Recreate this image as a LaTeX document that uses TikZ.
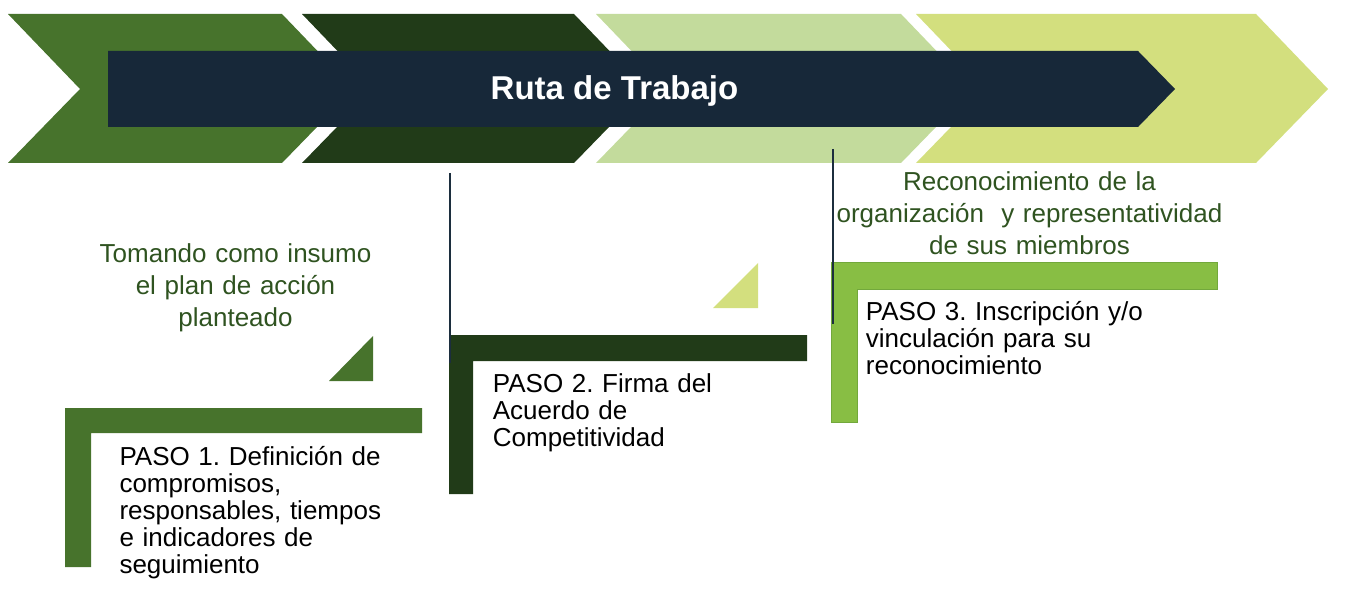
\documentclass[tikz,border=0pt]{standalone}
\usepackage{fontspec}
\setmainfont{Liberation Sans}
\frenchspacing
\definecolor{cA}{HTML}{47732C}
\definecolor{cB}{HTML}{213B18}
\definecolor{cC}{HTML}{C3DB9C}
\definecolor{cD}{HTML}{D3DF7E}
\definecolor{cE}{HTML}{88BE44}
\definecolor{cEline}{HTML}{72A83C}
\definecolor{banner}{HTML}{172839}
\definecolor{notegreen}{HTML}{2F5320}
\definecolor{vline}{HTML}{1C2E3E}
\begin{document}
\begin{tikzpicture}[x=1pt,y=-1pt,
  steptext/.style={anchor=base west, inner sep=0pt, text width=330pt, align=left,
    font=\fontsize{26}{27}\selectfont\frenchspacing, text=black},
  notetext/.style={anchor=base, inner sep=0pt, text width=440pt, align=center,
    font=\fontsize{26}{32}\selectfont, text=notegreen},
  titletext/.style={anchor=base, inner sep=0pt, text=white,
    font=\fontsize{33}{36}\selectfont\bfseries},
  guide/.style={draw=vline, line width=2pt}]
\useasboundingbox (0,0) rectangle (1367,612);
% chevrons
\fill[cA] (8,14) -- (282,14) -- (354,89) -- (282,163) -- (8,163) -- (80,89) -- cycle;
\fill[cB] (302,14) -- (574,14) -- (646,89) -- (574,163) -- (302,163) -- (374,89) -- cycle;
\fill[cC] (596,14) -- (901,14) -- (973,89) -- (901,163) -- (596,163) -- (668,89) -- cycle;
\fill[cD] (916,14) -- (1256,14) -- (1328,89) -- (1256,163) -- (916,163) -- (988,89) -- cycle;
% banner
\fill[banner] (108,51) -- (1138,51) -- (1175,89) -- (1138,127) -- (108,127) -- cycle;
\node[titletext] (title) at (614.5,100) {Ruta de Trabajo};
% step 1
\fill[cA] (65,408) -- (422,408) -- (422,433) -- (91,433) -- (91,567) -- (65,567) -- cycle;
\fill[cA] (329,381) -- (373,336) -- (373,381) -- cycle;
\node[notetext] (note1) at (235.5,262) {Tomando como insumo\\el plan de acción\\planteado};
\node[steptext] (step1) at (119.3,465.7) {PASO 1. Definición de\\compromisos,\\responsables, tiempos\\e indicadores de\\seguimiento};
% step 2
\fill[cB] (449,335) -- (807,335) -- (807,361) -- (473,361) -- (473,494) -- (449,494) -- cycle;
\fill[cD] (713,308) -- (758,263) -- (758,308) -- cycle;
\node[steptext] (step2) at (492.7,392.7) {PASO 2. Firma del\\Acuerdo de\\Competitividad};
\coordinate (g2a) at (450,173);
\coordinate (g2b) at (450,363);
\draw[guide] (g2a) -- (g2b);
% step 3
\filldraw[fill=cE, draw=cEline, line width=1pt] (831.5,262.5) -- (1217.5,262.5) -- (1217.5,289) -- (857.5,289) -- (857.5,422.5) -- (831.5,422.5) -- cycle;
\node[notetext] (note3) at (1029.5,191) {Reconocimiento de la\\organización\ \ y representatividad\\de sus miembros};
\node[steptext] (step3) at (865.7,320) {PASO 3. Inscripción y/o\\vinculación para su\\reconocimiento};
\coordinate (g3a) at (832.5,149);
\coordinate (g3b) at (832.5,324);
\draw[guide] (g3a) -- (g3b);
\end{tikzpicture}
\end{document}
